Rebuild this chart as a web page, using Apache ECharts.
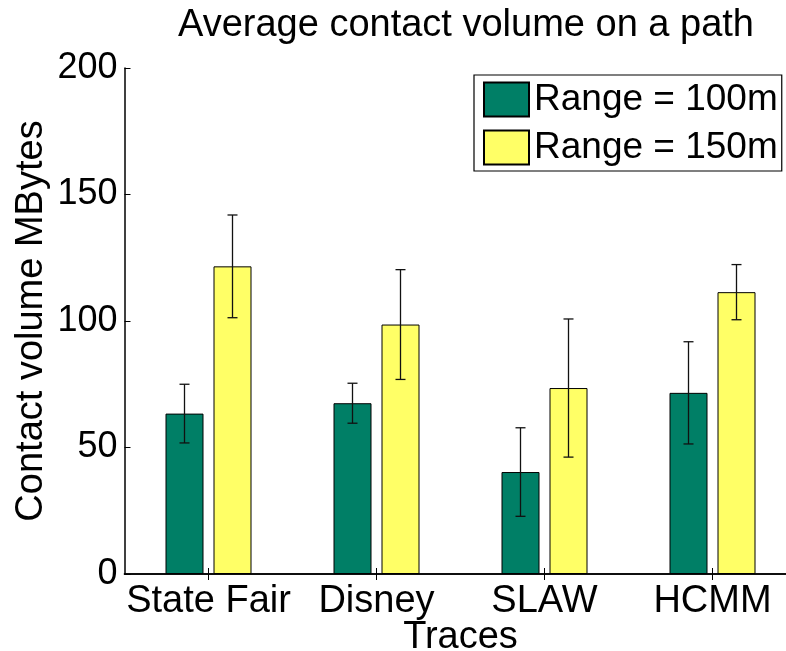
<!DOCTYPE html>
<html>
<head>
<meta charset="utf-8">
<script src="https://cdn.jsdelivr.net/npm/echarts@6/dist/echarts.min.js"></script>
<style>
  html, body { margin: 0; padding: 0; background: #fff; }
  #chart { width: 786px; height: 651px; }
</style>
</head>
<body>
<div id="chart"></div>
<script>
// Trace names along the x axis
const traces = ['State Fair', 'Disney', 'SLAW', 'HCMM'];
const seriesNames = ['Range = 100m', 'Range = 150m'];

// Mean contact volume (MBytes) per trace
const range100 = [63.4, 67.5, 40.3, 71.6];
const range150 = [121.6, 98.6, 73.5, 111.4];

// Half-length of each error bar (MBytes)
const err100 = [11.6, 7.9, 17.5, 20.2];
const err150 = [20.3, 21.7, 27.3, 10.9];

const yTicks = [0, 50, 100, 150, 200];

const FONT = '"Liberation Sans", Arial, sans-serif';
const FS = 38;
const FS_TICK = 36;
const FS_LEGEND = 37;
const BAR_W = 38;
const BAR_GAP_PX = 10;

const chart = echarts.init(document.getElementById('chart'), null, { renderer: 'canvas' });

function errorSeries(name, means, errs, side) {
  const data = means.map((m, i) => [i, m - errs[i], m + errs[i]]);
  return {
    type: 'custom',
    name: name + ' error',
    xAxisIndex: 0,
    yAxisIndex: 0,
    z: 10,
    silent: true,
    data: data,
    renderItem: function (params, api) {
      const idx = api.value(0);
      const lo = api.coord([idx, api.value(1)]);
      const hi = api.coord([idx, api.value(2)]);
      const x = lo[0] + side * (BAR_W + BAR_GAP_PX) / 2;
      const cap = 5;
      const style = { stroke: '#111', lineWidth: 1.3 };
      return {
        type: 'group',
        children: [
          { type: 'line', shape: { x1: x, y1: lo[1], x2: x, y2: hi[1] }, style: style },
          { type: 'line', shape: { x1: x - cap, y1: lo[1], x2: x + cap, y2: lo[1] }, style: style },
          { type: 'line', shape: { x1: x - cap, y1: hi[1], x2: x + cap, y2: hi[1] }, style: style }
        ]
      };
    }
  };
}

const axisLine = { show: true, lineStyle: { color: '#000', width: 1.5 } };

chart.setOption({
  animation: false,
  backgroundColor: '#fff',
  title: {
    text: 'Average contact volume on a path',
    left: 461,
    textAlign: 'center',
    top: 2,
    textStyle: { fontFamily: FONT, fontSize: FS, fontWeight: 'normal', color: '#000' }
  },
  legend: {
    orient: 'vertical',
    left: 474,
    top: 75,
    padding: [6, 4, 5, 9],
    itemGap: 11,
    itemWidth: 45,
    itemHeight: 34,
    icon: 'rect',
    borderColor: '#000',
    borderWidth: 1.2,
    backgroundColor: '#fff',
    data: seriesNames,
    textStyle: { fontFamily: FONT, fontSize: FS_LEGEND, color: '#000' }
  },
  grid: {
    left: 124.5, right: -10.5, top: 68, bottom: 77,
    containLabel: false,
    outerBoundsMode: 'none'
  },
  xAxis: [
    {
      type: 'category',
      data: traces,
      position: 'bottom',
      name: 'Traces',
      nameLocation: 'middle',
      nameGap: 45,
      nameMoveOverlap: false,
      nameTextStyle: { fontFamily: FONT, fontSize: FS, color: '#000' },
      axisLine: axisLine,
      axisTick: { show: true, alignWithLabel: true, inside: true, length: 6, lineStyle: { color: '#000' } },
      axisLabel: { fontFamily: FONT, fontSize: FS, color: '#000', margin: 9, interval: 0, hideOverlap: false },
      splitLine: { show: false }
    },
    {
      type: 'category',
      data: traces,
      position: 'top',
      axisLine: axisLine,
      axisTick: { show: true, alignWithLabel: true, inside: true, length: 6, lineStyle: { color: '#000' } },
      axisLabel: { show: false },
      splitLine: { show: false }
    }
  ],
  yAxis: [
    {
      type: 'value',
      min: yTicks[0],
      max: yTicks[yTicks.length - 1],
      interval: yTicks[1] - yTicks[0],
      position: 'left',
      name: 'Contact volume MBytes',
      nameLocation: 'middle',
      nameGap: 74,
      nameMoveOverlap: false,
      nameRotate: 90,
      nameTextStyle: { fontFamily: FONT, fontSize: FS, color: '#000' },
      axisLine: axisLine,
      axisTick: { show: true, inside: true, length: 6, lineStyle: { color: '#000' } },
      axisLabel: { fontFamily: FONT, fontSize: FS_TICK, color: '#000', margin: 7 },
      splitLine: { show: false }
    },
    {
      type: 'value',
      min: yTicks[0],
      max: yTicks[yTicks.length - 1],
      interval: yTicks[1] - yTicks[0],
      position: 'right',
      axisLine: axisLine,
      axisTick: { show: true, inside: true, length: 6 },
      axisLabel: { show: false },
      splitLine: { show: false }
    }
  ],
  series: [
    {
      type: 'bar',
      name: seriesNames[0],
      data: range100,
      barWidth: BAR_W,
      barGap: (BAR_GAP_PX / BAR_W * 100) + '%',
      itemStyle: { color: '#007f66', borderColor: '#000', borderWidth: 1 }
    },
    {
      type: 'bar',
      name: seriesNames[1],
      data: range150,
      barWidth: BAR_W,
      barGap: (BAR_GAP_PX / BAR_W * 100) + '%',
      itemStyle: { color: '#ffff66', borderColor: '#000', borderWidth: 1 }
    },
    errorSeries(seriesNames[0], range100, err100, -1),
    errorSeries(seriesNames[1], range150, err150, 1)
  ]
});
</script>
</body>
</html>
